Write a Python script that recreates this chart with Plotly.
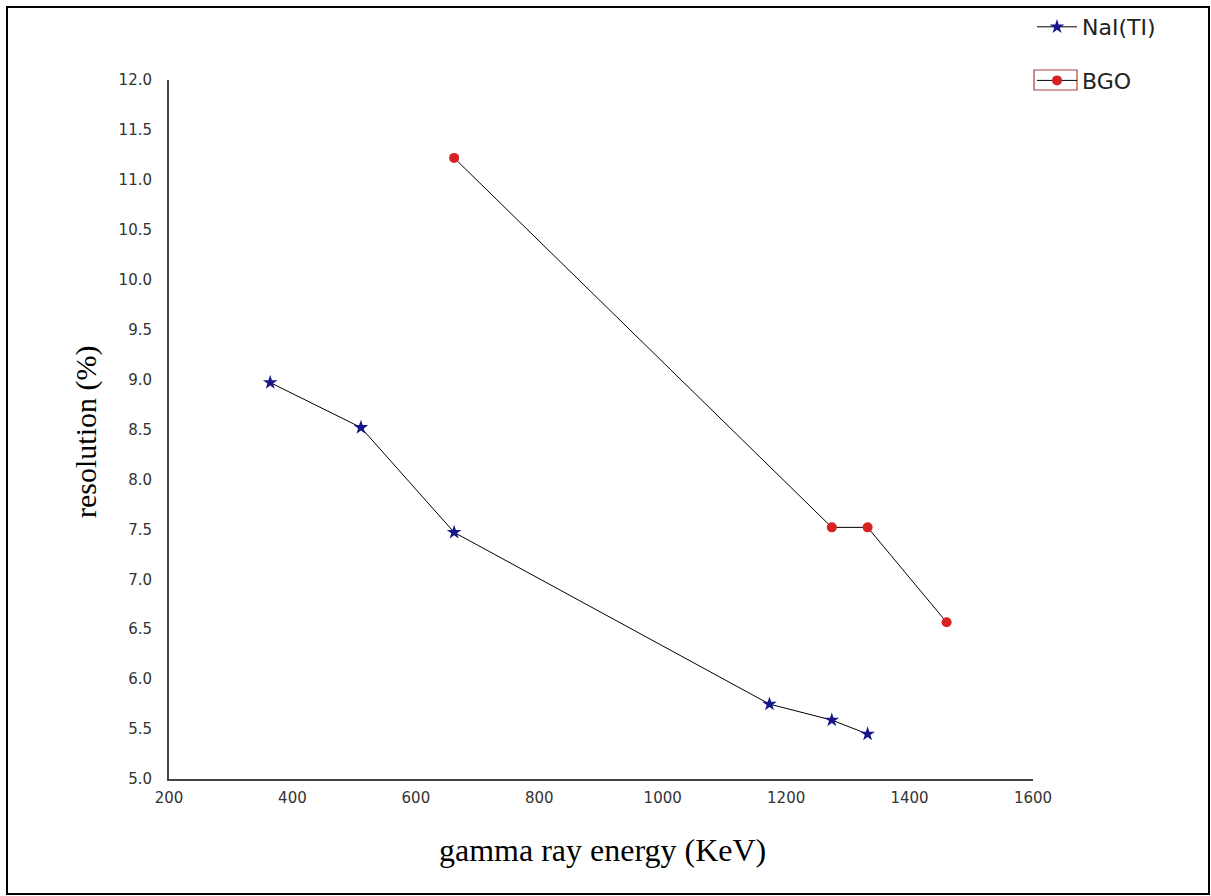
import plotly.graph_objects as go

# Data
nai_energy = [364, 511, 662, 1173, 1274, 1332]
nai_resolution = [8.97, 8.52, 7.47, 5.75, 5.59, 5.45]

bgo_energy = [662, 1274, 1332, 1460]
bgo_resolution = [11.22, 7.52, 7.52, 6.57]

x_ticks = [200, 400, 600, 800, 1000, 1200, 1400, 1600]
y_ticks = [5.0, 5.5, 6.0, 6.5, 7.0, 7.5, 8.0, 8.5, 9.0, 9.5, 10.0, 10.5, 11.0, 11.5, 12.0]

W, H = 1211, 896
L, R, T, B = 169, 178, 80, 117
pw, ph = W - L - R, H - T - B

def px(xp):
    return (xp - L) / pw

def py(yp):
    return (H - B - yp) / ph

TICKFONT = dict(family="DejaVu Sans", size=15, color="#333")

fig = go.Figure()
fig.add_trace(go.Scatter(
    x=nai_energy, y=nai_resolution, name="NaI(TI)", mode="lines+markers",
    legendgroup="a",
    line=dict(color="black", width=1),
    marker=dict(symbol="star", size=11, color="#16168a"),
))
fig.add_trace(go.Scatter(
    x=bgo_energy, y=bgo_resolution, name="BGO", mode="lines+markers",
    legendgroup="b",
    line=dict(color="black", width=1),
    marker=dict(symbol="circle", size=10, color="#d62222"),
))

fig.update_layout(
    width=W, height=H,
    margin=dict(l=L, r=R, t=T, b=B, autoexpand=False),
    paper_bgcolor="white", plot_bgcolor="white",
    showlegend=True,
    legend=dict(
        x=px(1032), y=py(6), xanchor="left", yanchor="top",
        font=dict(family="DejaVu Sans", size=22, color="#222"),
        bgcolor="rgba(0,0,0,0)", tracegroupgap=22, itemwidth=40,
    ),
    xaxis=dict(
        range=[200, 1600], tickvals=x_ticks, ticktext=[str(v) for v in x_ticks],
        showgrid=False, zeroline=False, showline=True, linecolor="#444", linewidth=2,
        ticks="", ticklabelstandoff=4, tickfont=TICKFONT,
    ),
    yaxis=dict(
        range=[5, 12], tickvals=y_ticks, ticktext=[f"{v:.1f}" for v in y_ticks],
        showgrid=False, zeroline=False, showline=True, linecolor="#444", linewidth=2,
        ticks="", ticklabelstandoff=12, tickfont=TICKFONT,
    ),
    annotations=[
        dict(text="gamma ray energy (KeV)", xref="paper", yref="paper",
             x=px(602), y=py(850), xanchor="center", yanchor="middle", showarrow=False,
             font=dict(family="Liberation Serif, Times New Roman", size=32, color="black")),
        dict(text="resolution (%)", xref="paper", yref="paper",
             x=px(86), y=py(432), xanchor="center", yanchor="middle", showarrow=False,
             textangle=-90,
             font=dict(family="Liberation Serif, Times New Roman", size=30, color="black")),
    ],
    shapes=[
        dict(type="rect", xref="paper", yref="paper",
             x0=px(7), x1=px(1209), y0=py(894), y1=py(7),
             line=dict(color="black", width=2), fillcolor="rgba(0,0,0,0)"),
        dict(type="rect", xref="paper", yref="paper",
             x0=px(1034), x1=px(1077), y0=py(90), y1=py(70),
             line=dict(color="#a84040", width=1.2), fillcolor="rgba(0,0,0,0)"),
    ],
)

fig.write_html("out.html")
